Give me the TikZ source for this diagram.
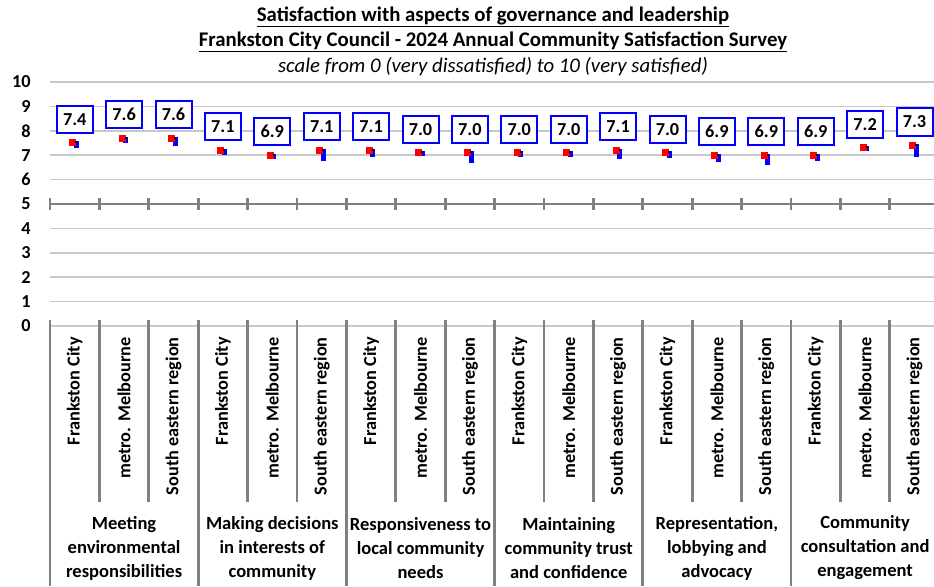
\documentclass[tikz,border=0pt]{standalone}
\usepackage{fontspec}
\setmainfont{Carlito}
\usetikzlibrary{positioning}
\definecolor{gridgray}{RGB}{200,200,200}
\definecolor{axisgray}{RGB}{128,128,128}
\definecolor{markred}{RGB}{255,0,0}
\definecolor{markblue}{RGB}{0,0,255}
\newcommand{\chartfont}{\bfseries\fontsize{13.7}{16}\selectfont}
\tikzset{gridline/.style={gridgray,line width=1.1pt},
  axisline/.style={axisgray,line width=2.2pt},
  valbox/.style={draw=markblue,line width=1.5pt,fill=white,font=\chartfont,minimum width=27pt,minimum height=20.5pt,inner sep=0pt},
  catlab/.style={rotate=90,anchor=east,font=\chartfont,inner sep=0pt},
  grplab/.style={align=center,font=\bfseries\fontsize{13.9}{18}\selectfont,inner sep=0pt},
  ylab/.style={anchor=east,font=\chartfont,inner sep=0pt},
  titlelab/.style={font=\bfseries\fontsize{15.6}{18}\selectfont,inner sep=0pt}}

\begin{document}
\begin{tikzpicture}[x=0.75pt,y=-0.75pt]
    \useasboundingbox (0,0) rectangle (934,586);

    % titles
    \node[titlelab] (t1) at (493,17) {\underline{Satisfaction with aspects of governance and leadership}};
    \node[titlelab] (t2) at (493,42) {\underline{Frankston City Council - 2024 Annual Community Satisfaction Survey}};
    \node[font=\itshape\fontsize{15.6}{18}\selectfont,inner sep=0pt] (t3) at (493,67) {scale from 0 (very dissatisfied) to 10 (very satisfied)};

    % grid and axis
    \foreach \v in {0,1,2,3,4,6,7,8,9,10}
        \draw[gridline] (50,{326-24.4*\v}) -- (934,{326-24.4*\v});
    \foreach \v in {0,...,10}
        \node[ylab] (y\v) at (31,{326-24.4*\v}) {\v};
    \draw[axisline] (50,204) -- (934,204);
    \foreach \i in {0,...,17}
        \draw[axisline] ({50+49.4*\i},198) -- ({50+49.4*\i},210);
    \foreach \i in {1,2,4,5,7,8,10,11,13,14,16,17}
        \draw[axisline] ({50+49.4*\i},320) -- ({50+49.4*\i},502);
    \foreach \i in {0,3,...,15}
        \draw[axisline] ({50+49.4*\i},320) -- ({50+49.4*\i},586);

    % markers and value boxes
    \foreach \v/\bl [count=\i from 0] in {7.4/7,7.6/6,7.6/9,7.1/6,6.9/5,7.1/12,7.1/8,7.0/5,7.0/12,7.0/6,7.0/6,7.1/10,7.0/7,6.9/8,6.9/11,6.9/7,7.2/5,7.3/13}
    {
        \pgfmathsetmacro\cx{74.7+49.4*\i}
        \pgfmathsetmacro\py{326-24.4*\v}
        \fill[markblue] (\cx-1,\py-4) rectangle (\cx+4,{\py-4+\bl});
        \fill[markred] (\cx-5.5,\py-6) rectangle (\cx+1.5,\py+1);
        \fill[black] (\cx+0.5,\py-4) rectangle (\cx+2.5,\py-2);
        \node[valbox] (b\i) at (\cx,\py-26) {\v};
    }

    % category labels
    \foreach \g in {0,...,5}
        \foreach \c [count=\k from 0] in {Frankston City,metro. Melbourne,South eastern region}
            \node[catlab] (c\g\k) at ({74.7+49.4*(3*\g+\k)},337) {\c};

    \foreach \t [count=\g from 0] in {{Meeting\\environmental\\responsibilities},{Making decisions\\in interests of\\community},{Responsiveness to\\local community\\needs},{Maintaining\\community trust\\and confidence},{Representation,\\lobbying and\\advocacy},{Community\\consultation and\\engagement}}
        \node[grplab] (g\g) at ({124.1+148.2*\g},548) {\t};
\end{tikzpicture}
\end{document}
